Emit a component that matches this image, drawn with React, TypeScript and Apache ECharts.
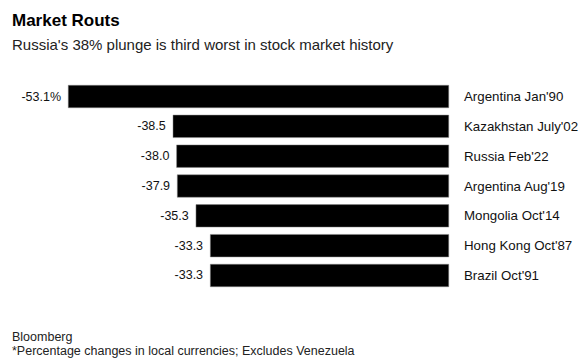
import React, { useEffect, useRef } from "react";
import * as echarts from "echarts";

const categories = [
  "Argentina Jan'90",
  "Kazakhstan July'02",
  "Russia Feb'22",
  "Argentina Aug'19",
  "Mongolia Oct'14",
  "Hong Kong Oct'87",
  "Brazil Oct'91",
];
const values = [-53.1, -38.5, -38.0, -37.9, -35.3, -33.3, -33.3];
const titleText = "Market Routs";
const subtitleText = "Russia's 38% plunge is third worst in stock market history";
const sourceText = "Bloomberg";
const noteText = "*Percentage changes in local currencies; Excludes Venezuela";

const FONT = "'Liberation Sans', Arial, sans-serif";

export default function App() {
  const ref = useRef<HTMLDivElement>(null);
  useEffect(() => {
    if (!ref.current) return;
    const chart = echarts.init(ref.current, null, { renderer: "svg" });
    chart.setOption({
      animation: false,
      backgroundColor: "#fff",
      grid: { left: 68, right: 139, top: 81.6, height: 208.8, containLabel: false },
      xAxis: {
        type: "value",
        min: -53.1,
        max: 0,
        show: false,
      },
      yAxis: {
        type: "category",
        data: categories,
        inverse: true,
        position: "right",
        axisLine: { show: false },
        axisTick: { show: false },
        splitLine: { show: false },
        axisLabel: {
          margin: 15,
          color: "#111",
          fontFamily: FONT,
          fontSize: 13.3,
          align: "left",
        },
      },
      series: [
        {
          type: "bar",
          data: values,
          barWidth: 23,
          itemStyle: { color: "#000", borderColor: "#888", borderWidth: 0.5 },
          label: {
            show: true,
            position: "left",
            distance: 7,
            color: "#111",
            fontFamily: FONT,
            fontSize: 12.5,
            formatter: (p: any) =>
              p.dataIndex === 0 ? p.value.toFixed(1) + "%" : p.value.toFixed(1),
          },
        },
      ],
      graphic: [
        {
          type: "text",
          left: 12,
          top: 12,
          style: { text: titleText, font: `bold 17px ${FONT}`, fill: "#000" },
        },
        {
          type: "text",
          left: 12,
          top: 37,
          style: { text: subtitleText, font: `15px ${FONT}`, fill: "#222" },
        },
        {
          type: "text",
          left: 12,
          top: 330,
          style: { text: sourceText, font: `12.5px ${FONT}`, fill: "#222" },
        },
        {
          type: "text",
          left: 12,
          top: 344,
          style: { text: noteText, font: `12.5px ${FONT}`, fill: "#222" },
        },
      ],
    });
    return () => chart.dispose();
  }, []);
  return (
    <div
      ref={ref}
      style={{ position: "fixed", left: 0, top: 0, width: 588, height: 364 }}
    />
  );
}
